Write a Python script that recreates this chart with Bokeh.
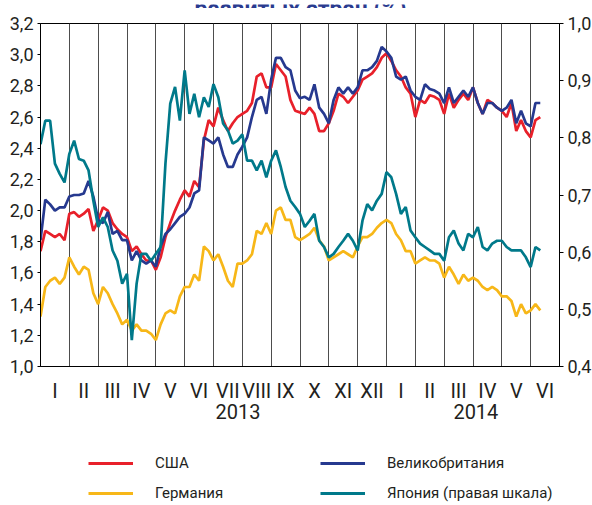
from bokeh.plotting import figure
from bokeh.layouts import column
from bokeh.models import Range1d, LinearAxis, FixedTicker, Legend, LegendItem, Label
from bokeh.embed import file_html
from bokeh.resources import INLINE

# ---------------- data (month index: 0 = start of Jan 2013, step = 1/6 month) ----------------
STEP = 1 / 6
US = [1.74, 1.87, 1.85, 1.83, 1.85, 1.81, 1.98, 1.99, 1.96, 1.98,
      2.01, 1.87, 1.94, 2.02, 2.00, 1.92, 1.88, 1.85, 1.83, 1.74,
      1.77, 1.72, 1.68, 1.68, 1.62, 1.70, 1.83, 1.92, 2.00, 2.07,
      2.13, 2.09, 2.19, 2.15, 2.45, 2.58, 2.54, 2.66, 2.58, 2.51,
      2.56, 2.60, 2.62, 2.64, 2.69, 2.86, 2.88, 2.79, 2.79, 2.94,
      2.90, 2.86, 2.71, 2.64, 2.63, 2.62, 2.66, 2.62, 2.51, 2.51,
      2.56, 2.64, 2.75, 2.73, 2.69, 2.73, 2.77, 2.84, 2.86, 2.88,
      2.92, 2.98, 3.01, 2.96, 2.90, 2.86, 2.79, 2.75, 2.60, 2.71,
      2.69, 2.74, 2.73, 2.71, 2.62, 2.75, 2.66, 2.71, 2.75, 2.71,
      2.79, 2.69, 2.62, 2.71, 2.69, 2.66, 2.64, 2.60, 2.69, 2.51,
      2.58, 2.51, 2.47, 2.58, 2.60]
UK = [1.81, 2.07, 2.04, 2.00, 2.02, 2.02, 2.09, 2.10, 2.10, 2.11,
      2.19, 2.09, 1.94, 1.92, 1.99, 1.85, 1.87, 1.81, 1.81, 1.68,
      1.74, 1.68, 1.66, 1.68, 1.64, 1.77, 1.85, 1.88, 1.92, 1.96,
      1.98, 2.02, 2.11, 2.13, 2.47, 2.45, 2.43, 2.47, 2.36, 2.28,
      2.28, 2.36, 2.41, 2.47, 2.60, 2.71, 2.73, 2.62, 2.84, 2.98,
      2.98, 2.92, 2.90, 2.77, 2.72, 2.73, 2.71, 2.81, 2.66, 2.62,
      2.56, 2.71, 2.79, 2.75, 2.79, 2.75, 2.79, 2.90, 2.90, 2.92,
      2.96, 3.05, 3.02, 2.98, 2.86, 2.84, 2.86, 2.77, 2.73, 2.71,
      2.81, 2.78, 2.77, 2.75, 2.69, 2.79, 2.69, 2.73, 2.77, 2.73,
      2.79, 2.69, 2.62, 2.69, 2.69, 2.66, 2.64, 2.66, 2.71, 2.56,
      2.64, 2.56, 2.54, 2.69, 2.69]
DE = [1.32, 1.51, 1.55, 1.57, 1.53, 1.57, 1.70, 1.64, 1.59, 1.64,
      1.62, 1.47, 1.40, 1.51, 1.47, 1.40, 1.34, 1.27, 1.30, 1.23,
      1.27, 1.23, 1.23, 1.21, 1.17, 1.27, 1.34, 1.36, 1.34, 1.45,
      1.51, 1.51, 1.59, 1.55, 1.77, 1.74, 1.68, 1.72, 1.64, 1.55,
      1.51, 1.66, 1.66, 1.68, 1.72, 1.87, 1.85, 1.92, 1.85, 2.00,
      2.02, 1.94, 1.94, 1.83, 1.81, 1.83, 1.85, 1.89, 1.81, 1.77,
      1.68, 1.70, 1.72, 1.74, 1.72, 1.70, 1.77, 1.83, 1.83, 1.85,
      1.89, 1.92, 1.94, 1.92, 1.85, 1.81, 1.74, 1.74, 1.66, 1.68,
      1.70, 1.68, 1.68, 1.66, 1.57, 1.64, 1.59, 1.53, 1.59, 1.55,
      1.57, 1.55, 1.51, 1.49, 1.51, 1.49, 1.45, 1.45, 1.42, 1.32,
      1.40, 1.34, 1.36, 1.40, 1.36]
JP = [0.789, 0.830, 0.830, 0.755, 0.737, 0.722, 0.772, 0.795, 0.763, 0.760,
      0.743, 0.690, 0.644, 0.661, 0.644, 0.603, 0.585, 0.545, 0.562, 0.446,
      0.545, 0.597, 0.597, 0.585, 0.597, 0.609, 0.755, 0.860, 0.889, 0.830,
      0.918, 0.842, 0.877, 0.836, 0.871, 0.854, 0.894, 0.871, 0.825, 0.813,
      0.790, 0.795, 0.806, 0.760, 0.760, 0.743, 0.760, 0.731, 0.760, 0.778,
      0.749, 0.714, 0.690, 0.679, 0.667, 0.644, 0.655, 0.667, 0.620, 0.609,
      0.591, 0.597, 0.609, 0.620, 0.632, 0.620, 0.603, 0.655, 0.684, 0.673,
      0.690, 0.702, 0.740, 0.731, 0.702, 0.667, 0.679, 0.638, 0.626, 0.615,
      0.609, 0.603, 0.597, 0.597, 0.585, 0.626, 0.638, 0.615, 0.603, 0.632,
      0.626, 0.644, 0.609, 0.603, 0.615, 0.620, 0.620, 0.609, 0.603, 0.603,
      0.603, 0.591, 0.574, 0.609, 0.603]
X = [i * STEP for i in range(len(US))]

MONTH_LABELS = ["I", "II", "III", "IV", "V", "VI", "VII", "VIII", "IX", "X", "XI", "XII",
                "I", "II", "III", "IV", "V", "VI"]
MONTH_CENTERS = [k + 0.5 for k in range(len(MONTH_LABELS))]
MONTH_BOUNDS = list(range(1, len(MONTH_LABELS)))
YEAR_LABELS = ["2013", "2014"]
YEAR_POS = [6.85, 15.1]
LEFT_TICKS = [1.0, 1.2, 1.4, 1.6, 1.8, 2.0, 2.2, 2.4, 2.6, 2.8, 3.0, 3.2]
RIGHT_TICKS = [0.4, 0.5, 0.6, 0.7, 0.8, 0.9, 1.0]

TITLE = "развитых стран (%)"
NAMES = ["США", "Германия", "Великобритания", "Япония (правая шкала)"]

C_US, C_UK, C_DE, C_JP = "#e8202a", "#26398f", "#f7b718", "#00798a"
FONT = "Roboto"
TXT = "#231f20"
W = 592
H_TOP, H_LEG = 8, 65


def strip(height, y_range):
    f = figure(width=W, height=height, min_border=0,
               x_range=Range1d(0, 18), y_range=y_range,
               x_axis_location=None, y_axis_location=None,
               output_backend="svg", toolbar_location=None,
               background_fill_color="white", border_fill_color="white")
    f.outline_line_color = None
    f.grid.visible = False
    return f


# ---------------- title strip (only the lower part of the title line is visible) ----------------
p0 = strip(H_TOP, Range1d(0, 1))
p0.add_layout(Label(x=260, y=3.5, x_units="screen", y_units="screen", text=TITLE,
                    text_align="center", text_baseline="alphabetic",
                    text_font=FONT, text_font_style="bold", text_font_size="23px",
                    text_color="#2a3b8f"))

# ---------------- main chart ----------------
p = figure(frame_width=519, frame_height=343,
           min_border_left=40, min_border_right=33, min_border_top=15, min_border_bottom=74,
           x_range=Range1d(0, 18), y_range=Range1d(1.0, 3.2),
           output_backend="svg", toolbar_location=None,
           background_fill_color="white", border_fill_color="white")
p.outline_line_color = "black"
p.outline_line_width = 1

p.ygrid.visible = False
p.xgrid.ticker = FixedTicker(ticks=MONTH_BOUNDS)
p.xgrid.grid_line_color = "#4d4d4d"
p.xgrid.grid_line_width = 1

ya = p.yaxis[0]
ya.ticker = FixedTicker(ticks=LEFT_TICKS)
ya.major_label_overrides = {t: f"{t:.1f}".replace(".", ",") for t in LEFT_TICKS}
ya.major_tick_out = 3
ya.major_tick_in = 0
ya.minor_tick_out = 0
ya.minor_tick_in = 0
ya.major_label_standoff = 4
ya.axis_line_color = "black"
ya.major_label_text_font = FONT
ya.major_label_text_font_size = "18px"
ya.major_label_text_color = TXT

p.extra_y_ranges = {"jp": Range1d(0.4, 1.0)}
ra = LinearAxis(y_range_name="jp", ticker=FixedTicker(ticks=RIGHT_TICKS))
ra.major_label_overrides = {t: f"{t:.1f}".replace(".", ",") for t in RIGHT_TICKS}
ra.major_tick_out = 4
ra.major_tick_in = 0
ra.minor_tick_out = 0
ra.minor_tick_in = 0
ra.major_label_standoff = 4
ra.axis_line_color = "black"
ra.major_label_text_font = FONT
ra.major_label_text_font_size = "18px"
ra.major_label_text_color = TXT
p.add_layout(ra, "right")

xa = p.xaxis[0]
xa.ticker = FixedTicker(ticks=MONTH_CENTERS)
xa.major_label_overrides = dict(zip(MONTH_CENTERS, MONTH_LABELS))
xa.major_tick_out = 0
xa.major_tick_in = 0
xa.minor_tick_out = 0
xa.minor_tick_in = 0
xa.major_label_standoff = 12
xa.axis_line_color = "black"
xa.major_label_text_font = FONT
xa.major_label_text_font_size = "20px"
xa.major_label_text_color = TXT

ya2 = LinearAxis(ticker=FixedTicker(ticks=YEAR_POS))
ya2.major_label_overrides = dict(zip(YEAR_POS, YEAR_LABELS))
ya2.major_tick_out = 0
ya2.major_tick_in = 0
ya2.minor_tick_out = 0
ya2.minor_tick_in = 0
ya2.axis_line_color = None
ya2.major_label_standoff = -2
ya2.major_label_text_font = FONT
ya2.major_label_text_font_size = "20px"
ya2.major_label_text_color = TXT
p.add_layout(ya2, "below")

LW = 2.7
p.line(X, DE, line_color=C_DE, line_width=LW)
p.line(X, US, line_color=C_US, line_width=LW)
p.line(X, UK, line_color=C_UK, line_width=LW)
p.line(X, JP, line_color=C_JP, line_width=LW, y_range_name="jp")

# ---------------- legend strip (same series, drawn out of this strip's view) ----------------
p2 = strip(H_LEG, Range1d(100, 101))
k_us = p2.line(X, US, line_color=C_US, line_width=3)
k_de = p2.line(X, DE, line_color=C_DE, line_width=3)
k_uk = p2.line(X, UK, line_color=C_UK, line_width=3)
k_jp = p2.line(X, JP, line_color=C_JP, line_width=3)

common = dict(orientation="vertical",
              glyph_width=45, glyph_height=20, label_height=20,
              label_standoff=22, spacing=10, padding=0, margin=0,
              border_line_color=None, background_fill_alpha=0,
              label_text_font=FONT, label_text_font_size="15px", label_text_color=TXT)
leg1 = Legend(items=[LegendItem(label=NAMES[0], renderers=[k_us]),
                     LegendItem(label=NAMES[1], renderers=[k_de])],
              location=(48, 2), **common)
leg2 = Legend(items=[LegendItem(label=NAMES[2], renderers=[k_uk]),
                     LegendItem(label=NAMES[3], renderers=[k_jp])],
              location=(280, 2), **common)
p2.add_layout(leg1)
p2.add_layout(leg2)

layout = column(p0, p, p2, spacing=0)
open("out.html", "w").write(file_html(layout, INLINE))
